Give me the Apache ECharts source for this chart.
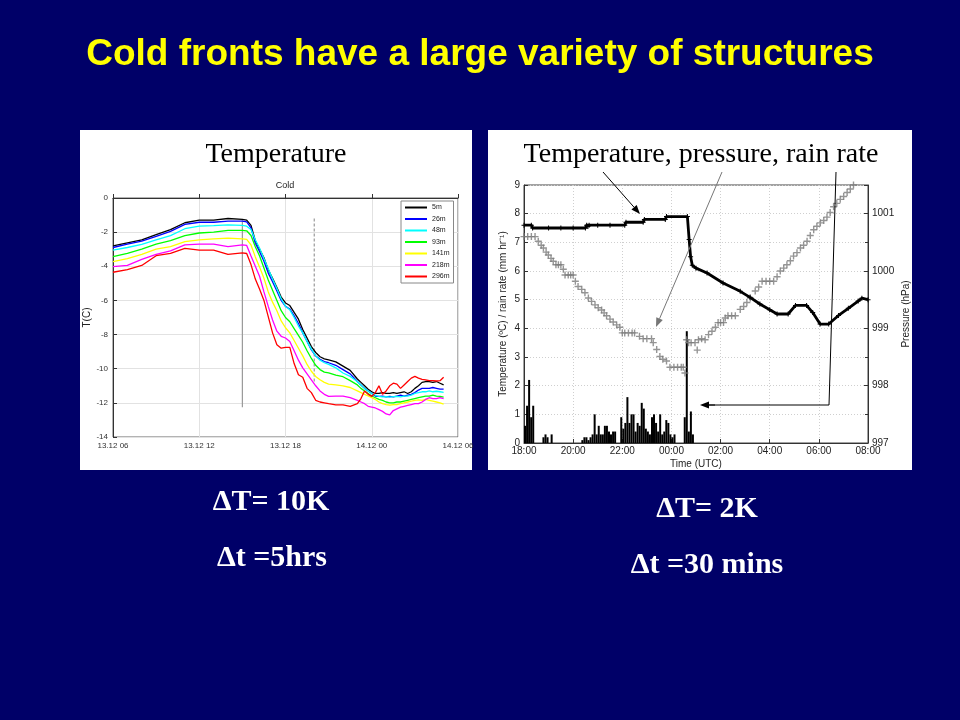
<!DOCTYPE html>
<html><head><meta charset="utf-8">
<script src="https://cdn.jsdelivr.net/npm/echarts@6/dist/echarts.min.js"></script>
<style>html,body{margin:0;padding:0;background:#000068;}#c{width:960px;height:720px;}</style>
</head><body><div id="c"></div>
<script>
// ---------- LEFT CHART DATA (hours after 13.12 06:00, temperature in C) ----------
const leftTickLabels = ['13.12 06','13.12 12','13.12 18','14.12 00','14.12 06'];
const heightNames = ['5m','26m','48m','93m','141m','218m','296m'];
const heightColors = ['#000000','#0000ff','#00ffff','#00ff00','#ffff00','#ff00ff','#ff0000'];
const leftHours = [0,1,2,3,4,5,6,7,8,9,
  9.3,9.6,9.9,10.2,10.5,10.8,11.1,11.4,11.7,12,12.3,12.6,12.9,13.2,13.5,13.8,14.1,14.4,14.7,
  15,15.5,16,16.5,17,
  17.25,17.5,17.75,18,18.25,18.5,18.75,19,19.25,19.5,19.75,20,20.25,20.5,20.75,21,21.25,21.5,21.75,22,22.25,22.5,22.75,23];
const temp5m = [-2.81,-2.63,-2.45,-2.15,-1.85,-1.45,-1.3,-1.3,-1.2,-1.25,
  -1.3,-1.6,-2.5,-3.0,-3.5,-4.2,-4.7,-5.25,-5.8,-6.15,-6.3,-6.7,-7.1,-7.7,-8.2,-8.7,-9.05,-9.3,-9.42,
  -9.48,-9.6,-9.85,-10.1,-10.6,
  -10.8,-11.0,-11.2,-11.35,-11.45,-11.45,-11.4,-11.45,-11.45,-11.4,-11.45,-11.4,-11.35,-11.45,-11.35,-11.15,-11.0,-10.8,-10.75,-10.75,-10.8,-10.75,-10.85,-10.95];
const temp26m = [-2.9,-2.7,-2.52,-2.25,-1.95,-1.55,-1.42,-1.42,-1.35,-1.35,
  -1.4,-1.75,-2.65,-3.15,-3.7,-4.4,-4.9,-5.45,-6.0,-6.35,-6.5,-6.9,-7.35,-7.9,-8.4,-8.9,-9.25,-9.45,-9.58,
  -9.65,-9.8,-10.05,-10.3,-10.75,
  -10.95,-11.15,-11.3,-11.45,-11.6,-11.62,-11.6,-11.65,-11.62,-11.65,-11.6,-11.55,-11.6,-11.55,-11.5,-11.4,-11.25,-11.15,-11.15,-11.15,-11.1,-11.15,-11.2,-11.2];
const temp48m = [-3.05,-2.9,-2.72,-2.45,-2.2,-1.8,-1.65,-1.62,-1.58,-1.6,
  -1.65,-1.85,-2.45,-2.95,-3.55,-4.15,-4.75,-5.3,-5.9,-6.35,-6.55,-7.0,-7.5,-7.9,-8.4,-8.85,-9.25,-9.5,-9.65,
  -9.75,-9.95,-10.25,-10.45,-10.75,
  -10.95,-11.15,-11.3,-11.45,-11.55,-11.62,-11.65,-11.64,-11.66,-11.64,-11.62,-11.65,-11.6,-11.6,-11.55,-11.45,-11.4,-11.35,-11.35,-11.3,-11.35,-11.32,-11.35,-11.38];
const temp93m = [-3.44,-3.25,-3.0,-2.7,-2.5,-2.2,-2.05,-2.0,-1.9,-1.9,
  -1.92,-2.2,-2.85,-3.4,-4.1,-4.8,-5.4,-6.0,-6.6,-7.0,-7.25,-7.65,-8.05,-8.45,-8.95,-9.4,-9.8,-10.05,-10.2,
  -10.25,-10.38,-10.47,-10.7,-10.95,
  -11.15,-11.3,-11.45,-11.6,-11.7,-11.8,-11.85,-11.95,-12.0,-12.0,-11.95,-11.95,-11.9,-11.85,-11.8,-11.75,-11.7,-11.65,-11.6,-11.6,-11.55,-11.6,-11.62,-11.66];
const temp141m = [-3.73,-3.55,-3.3,-3.0,-2.85,-2.55,-2.45,-2.4,-2.35,-2.4,
  -2.42,-2.75,-3.45,-4.05,-4.7,-5.5,-6.1,-6.6,-7.2,-7.6,-7.9,-8.35,-8.8,-9.25,-9.75,-10.15,-10.45,-10.65,-10.8,
  -10.9,-10.95,-11.0,-11.1,-11.3,
  -11.4,-11.5,-11.6,-11.7,-11.8,-11.95,-12.05,-12.1,-12.13,-12.1,-12.1,-12.05,-12.0,-11.95,-11.9,-11.85,-11.83,-11.85,-11.8,-11.85,-11.9,-11.95,-12.0,-12.07];
const temp218m = [-4.02,-3.95,-3.6,-3.3,-3.1,-2.75,-2.7,-2.7,-2.85,-2.75,
  -2.78,-3.4,-4.0,-4.6,-5.5,-6.35,-7.15,-7.8,-8.1,-8.2,-8.4,-8.95,-9.5,-9.95,-10.3,-10.65,-11.0,-11.3,-11.5,
  -11.62,-11.6,-11.6,-11.7,-11.85,
  -11.95,-12.05,-12.2,-12.25,-12.3,-12.4,-12.5,-12.65,-12.7,-12.45,-12.35,-12.25,-12.2,-12.15,-12.1,-12.05,-12.05,-11.95,-11.8,-11.7,-11.75,-11.75,-11.7,-11.75];
const temp296m = [-4.35,-4.2,-3.95,-3.38,-3.25,-2.95,-3.05,-3.05,-3.3,-3.22,
  -3.25,-3.9,-4.75,-5.35,-6.0,-6.95,-7.9,-8.6,-8.8,-8.75,-8.75,-9.7,-10.35,-10.5,-11.15,-11.4,-11.85,-11.95,-12.0,
  -12.05,-12.12,-12.12,-12.2,-12.05,
  -11.75,-11.3,-11.5,-11.62,-11.4,-11.0,-11.5,-11.3,-11.0,-10.85,-10.9,-11.15,-10.95,-10.75,-10.55,-10.45,-10.55,-10.62,-10.66,-10.7,-10.7,-10.72,-10.7,-10.5];
const leftSeriesValues = [temp5m,temp26m,temp48m,temp93m,temp141m,temp218m,temp296m];
const frontSolidHour = 9.0, frontSolidRange = [-1.3,-12.25];
const frontDashHour = 14.0, frontDashRange = [-1.2,-10.8];

// ---------- RIGHT CHART DATA (hours after 18:00 UTC) ----------
const rightTickLabels = ['18:00','20:00','22:00','00:00','02:00','04:00','06:00','08:00'];
const tempHours = [0,0.3,0.35,1,1.5,2,2.5,2.55,2.6,2.65,3,3.5,4.1,4.15,4.85,4.9,5.75,5.8,6.65,6.72,6.78,6.85,7.0,7.45,8.1,8.8,9.2,9.6,10.0,10.3,10.75,11.05,11.5,11.75,12.05,12.4,12.8,13.2,13.6,13.75,14];
const tempDegC = [7.6,7.6,7.5,7.5,7.5,7.5,7.5,7.6,7.55,7.6,7.6,7.6,7.6,7.7,7.7,7.8,7.8,7.9,7.9,7.1,6.5,6.2,6.1,5.93,5.58,5.29,5.08,4.85,4.65,4.5,4.5,4.8,4.8,4.55,4.15,4.15,4.45,4.7,4.95,5.05,5.0];
const pressHours = [0,0.15,0.3,0.45,0.58,0.7,0.79,0.9,0.99,1.1,1.19,1.3,1.4,1.5,1.6,1.67,1.8,1.9,2.0,2.09,2.2,2.35,2.48,2.62,2.75,2.89,3.02,3.16,3.26,3.36,3.5,3.63,3.77,3.9,4.0,4.1,4.25,4.4,4.5,4.7,4.85,5.0,5.19,5.26,5.4,5.53,5.65,5.8,5.94,6.1,6.25,6.4,6.48,6.55,6.62,6.7,6.8,6.96,7.05,7.1,7.23,7.37,7.51,7.65,7.79,7.9,8.0,8.12,8.19,8.3,8.45,8.6,8.8,8.94,9.07,9.21,9.41,9.55,9.69,9.85,10.0,10.16,10.3,10.43,10.57,10.7,10.84,10.97,11.11,11.25,11.38,11.52,11.65,11.79,11.92,12.06,12.2,12.33,12.46,12.6,12.73,12.87,13.01,13.15,13.28,13.41];
const pressHpa = [1000.6,1000.6,1000.6,1000.6,1000.52,1000.45,1000.4,1000.33,1000.28,1000.22,1000.17,1000.11,1000.11,1000.11,1000.03,999.93,999.93,999.93,999.93,999.82,999.73,999.68,999.62,999.53,999.47,999.41,999.36,999.32,999.27,999.22,999.16,999.11,999.06,999.02,998.92,998.92,998.92,998.92,998.92,998.86,998.82,998.82,998.82,998.75,998.63,998.51,998.46,998.43,998.32,998.32,998.32,998.32,998.32,998.22,998.8,998.75,998.75,998.75,998.62,998.8,998.82,998.8,998.89,998.95,999.02,999.1,999.1,999.1,999.18,999.22,999.22,999.22,999.33,999.38,999.45,999.53,999.65,999.72,999.82,999.82,999.82,999.82,999.9,1000.0,1000.05,1000.11,1000.18,1000.26,1000.32,1000.4,1000.45,1000.52,1000.62,1000.72,1000.78,1000.84,1000.88,1000.94,1001.02,1001.12,1001.18,1001.25,1001.3,1001.37,1001.43,1001.5];
const rainMinutes = [2.5,7.5,12.5,17.5,22.5,
  47.5,52.5,57.5,67.5,
  142.5,147.5,152.5,157.5,162.5,167.5,172.5,177.5,182.5,187.5,192.5,197.5,202.5,207.5,212.5,217.5,222.5,
  237.5,242.5,247.5,252.5,257.5,262.5,267.5,272.5,277.5,282.5,287.5,292.5,297.5,302.5,307.5,312.5,317.5,322.5,327.5,332.5,337.5,342.5,347.5,352.5,357.5,362.5,367.5,
  392.5,397.5,402.5,407.5,412.5];
const rainRate = [0.6,1.3,2.2,0.9,1.3,
  0.2,0.3,0.2,0.3,
  0.1,0.2,0.2,0.1,0.2,0.3,1.0,0.3,0.6,0.3,0.3,0.6,0.6,0.4,0.3,0.4,0.4,
  0.9,0.5,0.7,1.6,0.7,1.0,1.0,0.4,0.7,0.6,1.4,1.2,0.5,0.4,0.3,0.9,1.0,0.7,0.4,1.0,0.3,0.4,0.8,0.7,0.3,0.2,0.3,
  0.9,3.9,0.4,1.1,0.3];

const FONT = '"Liberation Sans", Arial, Helvetica, sans-serif';
const SERIF = '"Liberation Serif", "Times New Roman", serif';
const plusPath = 'path://M4,0H6V4H10V6H6V10H4V6H0V4H4Z';

const chart = echarts.init(document.getElementById('c'), null, {renderer:'canvas', width:960, height:720});

function arrow(x1,y1,x2,y2,color){
  const a = Math.atan2(y2-y1,x2-x1), L=9, W=3.5;
  const bx = x2-L*Math.cos(a), by = y2-L*Math.sin(a);
  const px = -Math.sin(a)*W, py = Math.cos(a)*W;
  return [
    {type:'line', z:100, shape:{x1:x1,y1:y1,x2:bx,y2:by}, style:{stroke:color,lineWidth:1}},
    {type:'polygon', z:100, shape:{points:[[x2,y2],[bx+px,by+py],[bx-px,by-py]]}, style:{fill:color}}
  ];
}
function txt(text,x,y,font,fill){
  return {type:'text', z:50, x:x, y:y, style:{text:text, font:font, fill:fill, textAlign:'center', textVerticalAlign:'middle', verticalAlign:'middle'}};
}

const series = [];
heightNames.forEach((n,i)=>{
  series.push({name:n, type:'line', xAxisIndex:0, yAxisIndex:0, showSymbol:false, z:5,
    data: leftHours.map((h,j)=>[h, leftSeriesValues[i][j]]),
    lineStyle:{color:heightColors[i], width:1.3}, itemStyle:{color:heightColors[i]}});
});
series.push({type:'line', xAxisIndex:0, yAxisIndex:0, showSymbol:false, z:3,
  data: frontSolidRange.map(v=>[frontSolidHour,v]), lineStyle:{color:'#999', width:1.2}});
series.push({type:'line', xAxisIndex:0, yAxisIndex:0, showSymbol:false, z:3,
  data: frontDashRange.map(v=>[frontDashHour,v]), lineStyle:{color:'#999', width:1.2, type:[3,2]}});
series.push({type:'bar', xAxisIndex:1, yAxisIndex:1, barWidth:2, z:4,
  data: rainMinutes.map((m,j)=>[m/60, rainRate[j]]), itemStyle:{color:'#000'}});
series.push({type:'line', xAxisIndex:1, yAxisIndex:1, z:6, symbol:plusPath, symbolSize:5, showSymbol:true,
  data: tempHours.map((h,j)=>[h,tempDegC[j]]), lineStyle:{color:'#000', width:2.8}, itemStyle:{color:'#000'}});
series.push({type:'scatter', xAxisIndex:1, yAxisIndex:2, z:5, symbol:plusPath, symbolSize:7,
  data: pressHours.map((h,j)=>[h,pressHpa[j]]), itemStyle:{color:'#7a7a7a'}});

const axisCommon = {
  axisLine:{show:true, lineStyle:{color:'#333', width:1}},
  axisTick:{show:true, inside:true, length:4, lineStyle:{color:'#333'}}
};

const graphics = [
  {type:'rect', z:-10, shape:{x:80,y:130,width:392,height:340}, style:{fill:'#ffffff'}},
  {type:'rect', z:-10, shape:{x:488,y:130,width:424,height:340}, style:{fill:'#ffffff'}},
  txt('Cold fronts have a large variety of structures', 480, 55, 'bold 37px '+FONT, '#ffff00'),
  txt('Temperature', 276, 155, '28px '+SERIF, '#000'),
  txt('Temperature, pressure, rain rate', 701, 155, '28px '+SERIF, '#000'),
  txt('Cold', 285, 186, '9px '+FONT, '#222'),
  txt('\u0394T= 10K', 271, 502, 'bold 30px '+SERIF, '#fff'),
  txt('\u0394t =5hrs', 272, 558, 'bold 30px '+SERIF, '#fff'),
  txt('\u0394T= 2K', 707, 509, 'bold 30px '+SERIF, '#fff'),
  txt('\u0394t =30 mins', 707, 565, 'bold 30px '+SERIF, '#fff'),
  ...arrow(603,172,640,214,'#000'),
  ...arrow(722,172,656,327,'#777'),
  {type:'polyline', z:100, shape:{points:[[836,172],[829,405],[709,405]]}, style:{stroke:'#000', lineWidth:1, fill:null}},
  ...arrow(715,405,700,405,'#000')
];

chart.setOption({
  animation:false,
  backgroundColor:'#000068',
  textStyle:{fontFamily:FONT},
  grid:[
    {left:113, top:198, width:345, height:239, show:true, borderColor:'#666', borderWidth:1, backgroundColor:'transparent'},
    {left:524, top:185, width:344, height:258, show:true, borderColor:'#444', borderWidth:1, backgroundColor:'transparent'}
  ],
  legend:{data:heightNames, left:401, top:201, orient:'vertical', backgroundColor:'#fff', borderColor:'#888', borderWidth:1,
    padding:[2,4,2,4], itemWidth:22, itemHeight:2, itemGap:2.5, icon:'rect',
    textStyle:{fontSize:7, lineHeight:9, color:'#222', fontFamily:FONT}},
  xAxis:[
    Object.assign({type:'value', gridIndex:0, min:0, max:24, interval:6,
      axisLabel:{fontSize:8, color:'#333', margin:5, formatter:v=>leftTickLabels[Math.round(v/6)]},
      splitLine:{show:true, lineStyle:{color:'#e2e2e2', width:1}}}, axisCommon),
    Object.assign({type:'value', gridIndex:1, min:0, max:14, interval:2,
      name:'Time (UTC)', nameLocation:'middle', nameGap:16, nameTextStyle:{fontSize:10, color:'#222'},
      axisLabel:{fontSize:10, color:'#222', margin:3, formatter:v=>rightTickLabels[Math.round(v/2)]},
      splitLine:{show:true, lineStyle:{color:'#cfcfcf', width:1, type:[1,2]}}}, axisCommon)
  ],
  yAxis:[
    Object.assign({type:'value', gridIndex:0, min:-14, max:0, interval:2,
      name:'T(C)', nameLocation:'middle', nameGap:18, nameRotate:90, nameTextStyle:{fontSize:10, color:'#222'},
      axisLabel:{fontSize:8, color:'#333', margin:5},
      splitLine:{show:true, lineStyle:{color:'#e2e2e2', width:1}}}, axisCommon),
    Object.assign({type:'value', gridIndex:1, min:0, max:9, interval:1,
      name:'Temperature (\u00baC) / rain rate (mm hr\u207B\u00B9)', nameLocation:'middle', nameGap:16, nameRotate:90,
      nameTextStyle:{fontSize:10, color:'#222'},
      axisLabel:{fontSize:10, color:'#222', margin:4},
      splitLine:{show:true, lineStyle:{color:'#cfcfcf', width:1, type:[1,2]}}}, axisCommon),
    Object.assign({type:'value', gridIndex:1, position:'right', min:997, max:1001.5, interval:1,
      name:'Pressure (hPa)', nameLocation:'middle', nameGap:33, nameRotate:90, nameTextStyle:{fontSize:10, color:'#222'},
      axisLabel:{fontSize:10, color:'#222', margin:4, showMaxLabel:false, formatter:v=>String(v)},
      minorTick:{show:true, splitNumber:2, length:3, lineStyle:{color:'#333'}},
      splitLine:{show:false}}, axisCommon)
  ],
  series: series,
  graphic: graphics
});
</script></body></html>
